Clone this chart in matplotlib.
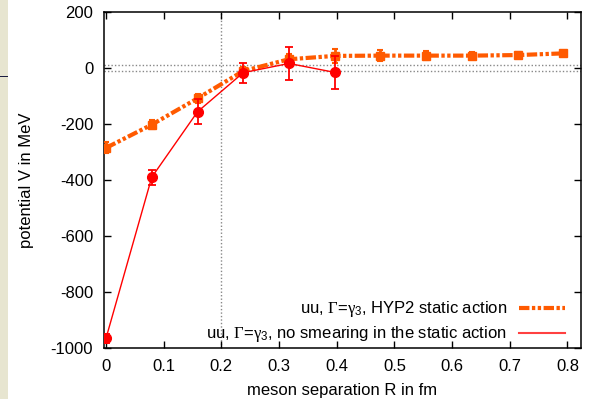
import matplotlib
matplotlib.use("Agg")
import matplotlib.pyplot as plt
from matplotlib.lines import Line2D
from matplotlib.patches import Rectangle

plt.rcParams['font.family'] = ['Liberation Sans', 'DejaVu Sans']
plt.rcParams['mathtext.fontset'] = 'custom'
plt.rcParams['mathtext.rm'] = 'Liberation Serif'
plt.rcParams['mathtext.it'] = 'Liberation Serif'
plt.rcParams['mathtext.sf'] = 'Liberation Sans'

# HYP2 static action
r_hyp = [0.0, 0.0793, 0.1586, 0.2379, 0.3172, 0.3965, 0.4758, 0.5551, 0.6344, 0.7137, 0.793]
v_hyp = [-285, -202, -108, -10, 32, 44, 45, 45, 45, 47, 53]
e_hyp = [20, 15, 15, 15, 20, 24, 20, 15, 12, 10, 8]

# no smearing in the static action
r_nos = [0.0, 0.0793, 0.1586, 0.2379, 0.3172, 0.3965]
v_nos = [-966, -390, -156, -16, 17, -15]
e_nos = [16, 27, 45, 36, 60, 60]

xticks = [0, 0.1, 0.2, 0.3, 0.4, 0.5, 0.6, 0.7, 0.8]
yticks = [-1000, -800, -600, -400, -200, 0, 200]

W, H = 591, 399
FS = 12
fig = plt.figure(figsize=(W / 100, H / 100), dpi=100)
ax = fig.add_axes([104.3 / W, 1 - 347.7 / H, (580.7 - 104.3) / W, (347.7 - 12.3) / H])

# page artifacts on the left
fig.patches.append(Rectangle((0, 0), 8 / W, 1, transform=fig.transFigure,
                             facecolor='#e7e5d0', edgecolor='none', zorder=0))
fig.patches.append(Rectangle((0, 1 - 77.3 / H), 8 / W, 1.8 / H, transform=fig.transFigure,
                             facecolor='#1c1c40', edgecolor='none', zorder=1))

ax.set_xlim(-0.003, 0.823)
ax.set_ylim(-1000, 200)

# reference dotted lines
for yv in (10, -10):
    ax.axhline(yv, color='#888888', lw=1.0, ls=(0, (1, 1.5)), zorder=1)
ax.axvline(0.2, color='#888888', lw=1.0, ls=(0, (1, 1.5)), zorder=1)

orange = '#ff5a00'
red = '#ff0000'
dashdot = (0, (2.5, 0.6, 0.8, 0.6, 0.8, 0.6))

ax.errorbar(r_hyp, v_hyp, yerr=e_hyp, color=orange, lw=3.0, ls=dashdot,
            marker='s', ms=6, capsize=2.5, elinewidth=2.0, capthick=1.5, zorder=3)
ax.errorbar(r_nos, v_nos, yerr=e_nos, color=red, lw=1.0, marker='o', ms=7,
            capsize=3, elinewidth=1.3, capthick=1.3, zorder=4)

ax.set_xticks(xticks)
ax.set_xticklabels(['0', '0.1', '0.2', '0.3', '0.4', '0.5', '0.6', '0.7', '0.8'])
ax.set_yticks(yticks)
ax.set_yticklabels([str(v) for v in yticks])
ax.tick_params(direction='in', length=5, width=1.0, top=True, right=True,
               labelsize=FS, pad=8)
for s in ax.spines.values():
    s.set_linewidth(1.1)

ax.set_xlabel('meson separation R in fm', fontsize=FS, labelpad=6.5)
ax.set_ylabel('potential V in MeV', fontsize=FS, labelpad=12)

h1 = Line2D([], [], color=orange, lw=3.0, ls=dashdot)
h2 = Line2D([], [], color='#ff4040', lw=1.5)
leg = ax.legend([h1, h2],
                [r'uu, $\Gamma$=$\gamma_\mathsf{3}$, HYP2 static action',
                 r'uu, $\Gamma$=$\gamma_\mathsf{3}$, no smearing in the static action'],
                loc='lower right', bbox_to_anchor=(0.992, -0.025), frameon=False,
                markerfirst=False, handlelength=2.8, handletextpad=0.7,
                labelspacing=0.3, fontsize=FS, borderpad=0.2)

fig.savefig('out.png', dpi=100)
